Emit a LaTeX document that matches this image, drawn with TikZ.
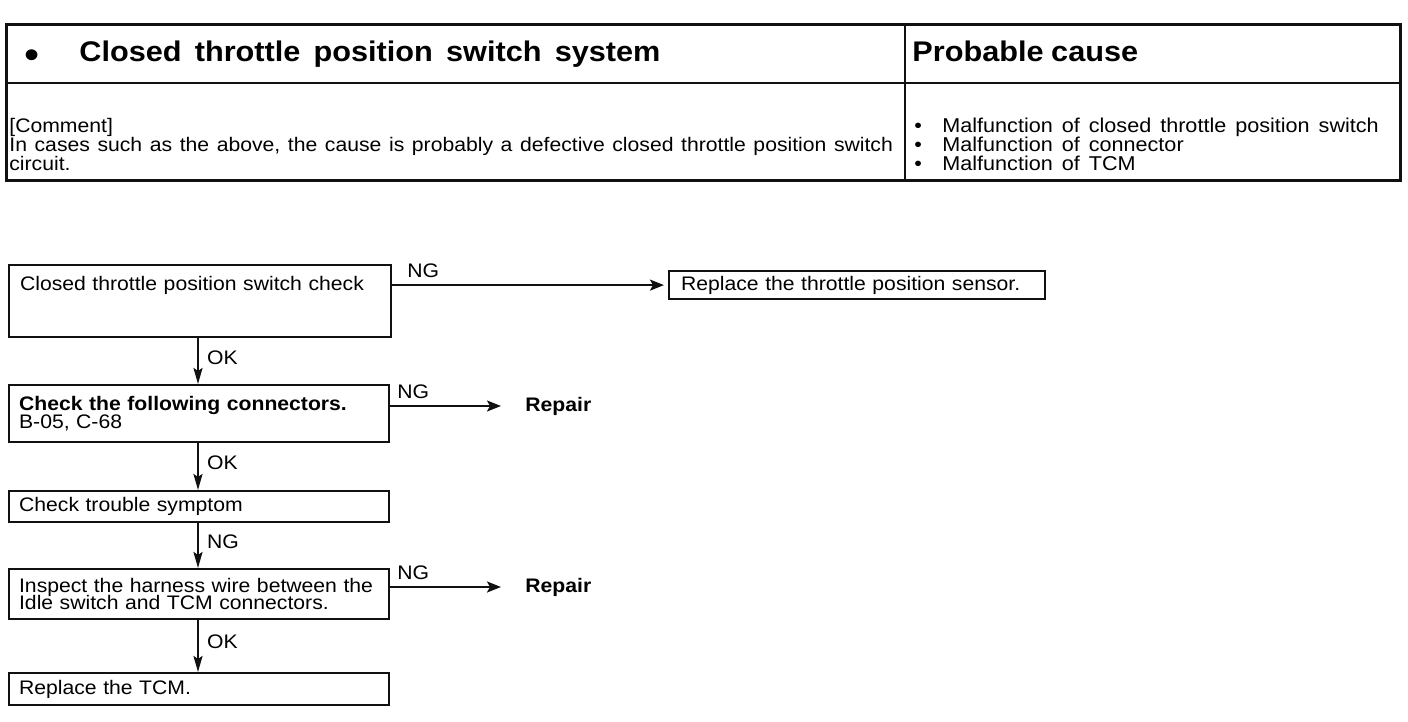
\documentclass[tikz,border=0pt]{standalone}
\usepackage{fontspec}
\setmainfont{Liberation Sans}[FakeStretch=1.08]
\usepackage{xcolor}
\usetikzlibrary{arrows.meta,positioning}
\definecolor{ink}{HTML}{111111}
\newcommand{\wsp}{\spaceskip=3.8pt plus 1pt\lineskiplimit=-\maxdimen\relax}
\newcommand{\titlesp}{\spaceskip=6.6pt plus 1pt\relax}
\newcommand{\causesp}{\spaceskip=4.5pt plus 1pt\lineskiplimit=-\maxdimen\relax}
\newcommand{\bul}{\makebox[14pt][l]{\textbullet}}

\begin{document}
\begin{tikzpicture}[x=0.5pt,y=-0.5pt]
    \tikzset{
      frame/.style={draw=ink,line width=1.5pt},
      rule/.style={draw=ink,line width=1.1pt},
      stepbox/.style={draw=ink,line width=1.1pt,anchor=north west,minimum width=190pt,inner xsep=5pt,inner ysep=0pt,text width=180pt,align=left,font=\fontsize{9.8}{8.8}\selectfont\wsp},
      head/.style={anchor=base west,inner sep=0pt,font=\fontsize{14.2}{18}\selectfont\bfseries\wsp},
      body/.style={anchor=north west,inner sep=0pt,align=left,font=\fontsize{9.8}{9.4}\selectfont\wsp},
      tag/.style={anchor=west,inner sep=0pt,font=\fontsize{9.8}{12}\selectfont},
      flow/.style={-{Stealth[length=7pt,width=5.5pt,inset=1.5pt]},draw=ink,line width=1.1pt},
      down/.style={-{Stealth[length=8pt,width=4.5pt,inset=1.5pt]},draw=ink,line width=1.2pt}
    }
    \useasboundingbox (0,0) rectangle (1408,722);
    % table
    \draw[frame] (6,25) rectangle (1400,180);
    \draw[rule] (6,83) -- (1400,83);
    \draw[rule] (905,25) -- (905,180);
    \node[head,font=\fontsize{20}{20}\selectfont] (dot) at (24,69) {\textbullet};
    \node[head,font=\fontsize{14.2}{18}\selectfont\bfseries\titlesp] (title) at (79,62) {Closed throttle position switch system};
    \node[head] (cause) at (912,62) {Probable cause};
    \node[body] (comment) at (9,118) {[Comment]\\In cases such as the above, the cause is probably a defective closed throttle position switch\\circuit.};
    \node[body,font=\fontsize{10}{9.4}\selectfont\causesp] (causes) at (914,118) {\bul Malfunction of closed throttle position switch\\\bul Malfunction of connector\\\bul Malfunction of TCM};
    % flow chart
    \coordinate (spine) at (198,0);
    \node[stepbox,text height=12.5pt,text depth=23.5pt,minimum width=191pt] (chk) at (8,264) {Closed throttle position switch check};
    \node[stepbox,minimum height=28.5pt] (conn) at (8,384) {\textbf{Check the following connectors.}\\B-05, C-68};
    \node[stepbox,minimum height=15.5pt] (sym) at (8,490) {Check trouble symptom};
    \node[stepbox,minimum height=25pt] (harn) at (8,568) {Inspect the harness wire between the\\Idle switch and TCM connectors.};
    \node[stepbox,minimum height=16pt] (tcm) at (8,672) {Replace the TCM.};
    \node[stepbox,minimum width=188pt,text width=176pt,minimum height=14pt] (swap) at (668,270) {Replace the throttle position sensor.};
    \node[tag,font=\fontsize{9.8}{12}\selectfont\bfseries] (rep1) at (525,406) {Repair};
    \node[tag,font=\fontsize{9.8}{12}\selectfont\bfseries] (rep2) at (525,587) {Repair};
    % connectors
    \draw[flow,shorten >=2pt] (chk.east |- swap.west) -- node[tag,pos=0,anchor=south west,xshift=7pt,yshift=3pt]{NG} (swap.west);
    \draw[flow,shorten >=12pt] (conn.east |- rep1.west) -- node[tag,pos=0,anchor=south west,xshift=3pt,yshift=3pt]{NG} (rep1.west);
    \draw[flow,shorten >=12pt] (harn.east |- rep2.west) -- node[tag,pos=0,anchor=south west,xshift=3pt,yshift=3pt]{NG} (rep2.west);
    \draw[down] (chk.south -| spine) -- node[tag,pos=0.42,xshift=4pt]{OK} (conn.north -| spine);
    \draw[down] (conn.south -| spine) -- node[tag,pos=0.42,xshift=4pt]{OK} (sym.north -| spine);
    \draw[down] (sym.south -| spine) -- node[tag,pos=0.42,xshift=4pt]{NG} (harn.north -| spine);
    \draw[down] (harn.south -| spine) -- node[tag,pos=0.42,xshift=4pt]{OK} (tcm.north -| spine);
  \end{tikzpicture}
\end{document}
